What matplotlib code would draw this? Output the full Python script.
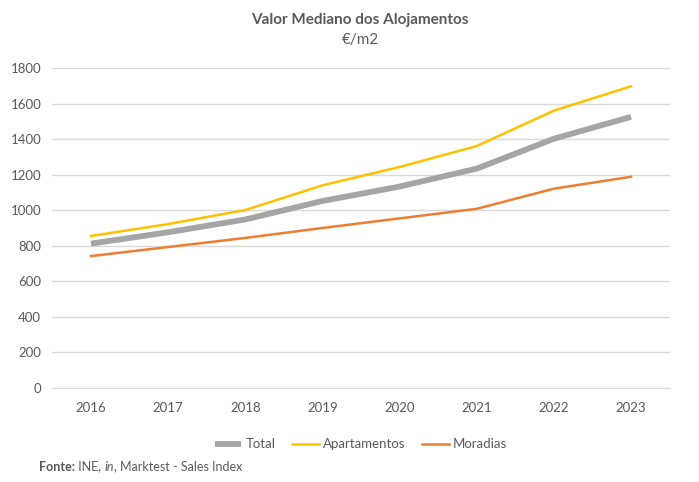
import matplotlib.pyplot as plt

anos = ['2016', '2017', '2018', '2019', '2020', '2021', '2022', '2023']
total = [812, 876, 948, 1052, 1133, 1234, 1402, 1525]
apartamentos = [855, 922, 1001, 1140, 1243, 1361, 1560, 1697]
moradias = [742, 793, 844, 900, 954, 1008, 1121, 1188]
yticks = [0, 200, 400, 600, 800, 1000, 1200, 1400, 1600, 1800]

plt.rcParams['font.family'] = ['Lato', 'DejaVu Sans']
cinza = '#595959'

fig = plt.figure(figsize=(6.99, 4.82), dpi=100)
ax = fig.add_axes([0.075, 0.195, 0.883, 0.664])

x = list(range(len(anos)))
ax.plot(x, total, color='#a5a5a5', lw=4.2, label='Total', solid_capstyle='butt')
ax.plot(x, apartamentos, color='#ffc000', lw=1.8, label='Apartamentos')
ax.plot(x, moradias, color='#ed7d31', lw=1.8, label='Moradias')

ax.set_xlim(-0.5, len(anos) - 0.5)
ax.set_ylim(0, 1800)
ax.set_yticks(yticks)
ax.set_xticks(x)
ax.set_xticklabels(anos)
ax.grid(axis='y', color='#d9d9d9', lw=1)
ax.set_axisbelow(True)
for s in ['top', 'right', 'left']:
    ax.spines[s].set_visible(False)
ax.spines['bottom'].set_color('#d9d9d9')
ax.tick_params(length=0, colors=cinza, labelsize=9.5)
ax.tick_params(axis='x', pad=10)
ax.tick_params(axis='y', pad=8)

fig.text(0.515, 0.958, 'Valor Mediano dos Alojamentos', ha='center', va='center',
         fontsize=11, fontweight='bold', color=cinza)
fig.text(0.515, 0.918, '€/m2', ha='center', va='center', fontsize=11, color=cinza)

leg = ax.legend(loc='upper center', bbox_to_anchor=(0.5, -0.12), ncol=3, frameon=False,
                fontsize=9.5, handlelength=2.0, handletextpad=0.3, columnspacing=1.3)
for t in leg.get_texts():
    t.set_color(cinza)

# fonte em partes: negrito, normal, italico
r = fig.canvas.get_renderer()
px = 39
partes = [('Fonte:', 'bold', 'normal'), (' INE, ', 'normal', 'normal'),
          ('in', 'normal', 'italic'), (', Marktest - Sales Index', 'normal', 'normal')]
for txt, peso, estilo in partes:
    t = fig.text(px / 699, 0.032, txt, fontsize=9, color=cinza, va='center',
                 fontweight=peso, fontstyle=estilo)
    px += t.get_window_extent(renderer=r).width

fig.savefig('out.png', dpi=100)
